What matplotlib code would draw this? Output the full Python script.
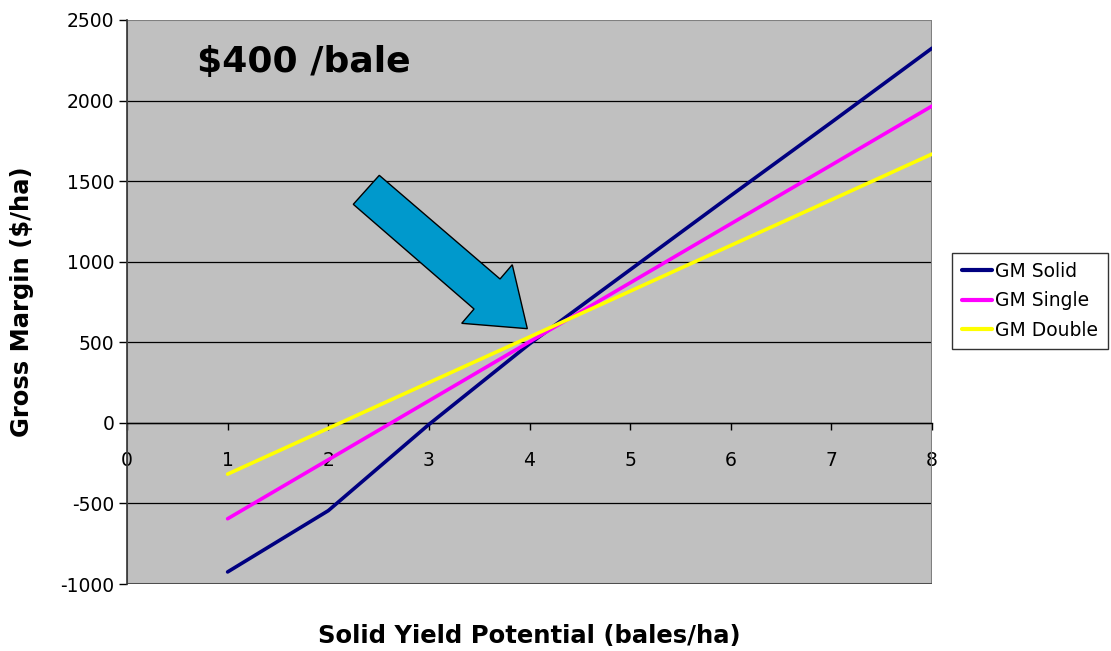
import numpy as np
import matplotlib.pyplot as plt
from matplotlib.patches import Polygon, Rectangle

plt.rcParams['axes.unicode_minus'] = False

# Gross margin vs solid yield potential at $400/bale
yield_potential = [1, 2, 3, 4, 5, 6, 7, 8]
gm_solid = [-925, -545, -10, 490, 950, 1410, 1865, 2325]
gm_single = [-595, -229, 137, 503, 869, 1235, 1600, 1966]
gm_double = [-318, -34, 250, 533, 817, 1101, 1384, 1668]

series_names = ['GM Solid', 'GM Single', 'GM Double']
series_colors = ['#000080', '#FF00FF', '#FFFF00']

# arrow outline, axes fraction
arrow_pts = [(0.3134, 0.7246), (0.2811, 0.6732), (0.4311, 0.4876),
             (0.4158, 0.4622), (0.4973, 0.4527), (0.4786, 0.5661),
             (0.4634, 0.5408)]

fig = plt.figure(figsize=(11.11, 6.51), dpi=100)
ax = fig.add_axes([0.1143, 0.1029, 0.7246, 0.8664])
ax.set_facecolor('#C0C0C0')

for yv, name, col in zip([gm_solid, gm_single, gm_double], series_names, series_colors):
    ax.plot(yield_potential, yv, color=col, linewidth=2.6, label=name,
            solid_capstyle='round', solid_joinstyle='round', zorder=3)

ax.set_xlim(0, 8)
ax.set_ylim(-1000, 2500)
ax.set_yticks(np.arange(-1000, 2501, 500))
ax.set_xticks(range(0, 9))

# horizontal gridlines
for yv in np.arange(-500, 2001, 500):
    ax.axhline(yv, color='black', linewidth=0.9, zorder=1)

# x axis sits on the zero line
for s in ['top', 'right']:
    ax.spines[s].set_visible(False)
ax.spines['bottom'].set_position(('data', 0))
ax.spines['bottom'].set_linewidth(1.0)
ax.spines['left'].set_linewidth(1.2)
ax.spines['left'].set_color('#333333')
ax.add_patch(Rectangle((0, 0), 1, 1, transform=ax.transAxes, fill=False,
                       edgecolor='#808080', linewidth=1.5, zorder=2))
ax.axhline(-1000, color='#444444', linewidth=1.2, zorder=2)

ax.tick_params(axis='x', direction='out', length=5, width=1, pad=15,
               labelsize=13.5)
ax.tick_params(axis='y', direction='out', length=6, width=1, pad=3,
               labelsize=13.5)

ax.set_xlabel('Solid Yield Potential (bales/ha)', fontsize=17.5,
              fontweight='bold', va='center')
ax.xaxis.set_label_coords(0.5, -0.092)
ax.set_ylabel('Gross Margin ($/ha)', fontsize=17.5, fontweight='bold',
              va='center')
ax.yaxis.set_label_coords(-0.130, 0.5)

ax.text(0.087, 0.925, '$400 /bale', transform=ax.transAxes, fontsize=26,
        fontweight='bold', va='center', ha='left')

ax.add_patch(Polygon(arrow_pts, closed=True, transform=ax.transAxes,
                     facecolor='#0099CC', edgecolor='black', linewidth=1.0,
                     zorder=4))

leg = fig.legend(loc='center left', bbox_to_anchor=(0.857, 0.538),
                 fontsize=13.5, frameon=True, fancybox=False,
                 handlelength=1.6, handletextpad=0.2, borderpad=0.5,
                 labelspacing=0.55, borderaxespad=0)
leg.get_frame().set_edgecolor('black')
leg.get_frame().set_linewidth(1.0)
for line in leg.get_lines():
    line.set_linewidth(3)

fig.savefig('out.png', dpi=100)
